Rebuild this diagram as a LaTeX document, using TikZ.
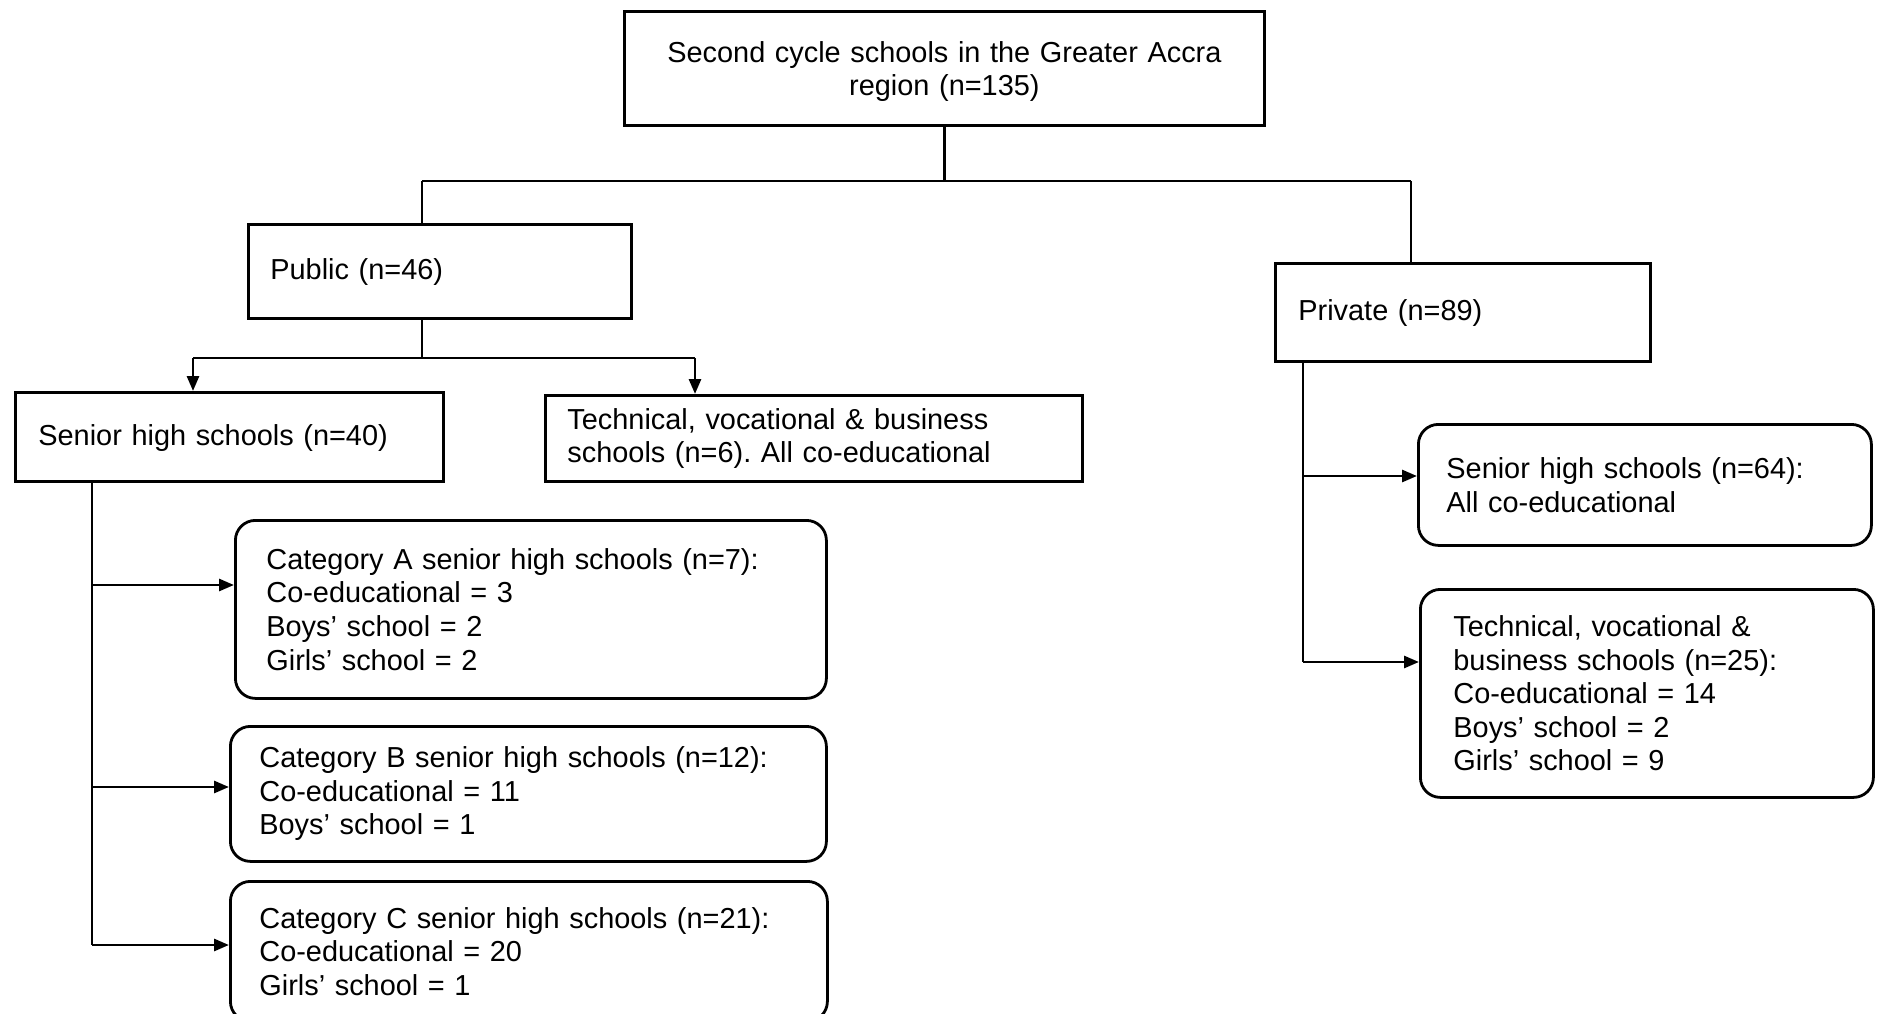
\documentclass[tikz,border=0pt]{standalone}
\usepackage{fontspec}
\setmainfont{Liberation Sans}
\usetikzlibrary{arrows.meta}
\frenchspacing
\begin{document}
\begin{tikzpicture}[x=1pt,y=-1pt,
  every node/.style={font=\fontsize{28.9}{33.6}\selectfont},
  plain/.style={draw,line width=2.8pt,anchor=north west,inner ysep=0pt,align=left},
  roundbox/.style={plain,rounded corners=20pt},
  % width, height, horizontal padding
  sized/.style n args={3}{minimum width=#1pt,minimum height=#2pt,inner xsep=#3pt,text width=#1pt-2*#3pt},
  link/.style={line width=2.8pt},
  arrowlink/.style={link,-{Triangle[length=15pt,width=12pt]}}]
\useasboundingbox (0,0) rectangle (1883,1014);
\node[plain,align=center,sized={640}{114}{30},text height=27pt] (top) at (623,10)
  {Second cycle schools in the Greater Accra\\region (n=135)};
\node[plain,sized={383}{94}{22},text depth=4pt] (pub) at (247,223) {Public (n=46)};
\node[plain,sized={375}{98}{23},text depth=4pt] (priv) at (1274,262) {Private (n=89)};
\node[plain,sized={428}{89}{23},text depth=4pt] (shs) at (14,391) {Senior high schools (n=40)};
\node[plain,sized={537}{86}{22}] (tvp) at (544,394)
  {Technical, vocational \& business\\schools (n=6). All co-educational};
\node[roundbox,sized={591}{178}{31}] (catA) at (234,519)
  {Category A senior high schools (n=7):\\Co-educational = 3\\Boys’ school = 2\\Girls’ school = 2};
\node[roundbox,sized={596}{135}{29}] (catB) at (229,725)
  {Category B senior high schools (n=12):\\Co-educational = 11\\Boys’ school = 1};
\node[roundbox,sized={597}{140}{29}] (catC) at (229,880)
  {Category C senior high schools (n=21):\\Co-educational = 20\\Girls’ school = 1};
\node[roundbox,sized={453}{121}{28}] (pshs) at (1417,423)
  {Senior high schools (n=64):\\All co-educational\\[8pt]};
\node[roundbox,sized={453}{208}{33}] (ptvb) at (1419,588)
  {Technical, vocational \&\\business schools (n=25):\\Co-educational = 14\\Boys’ school = 2\\Girls’ school = 9};
% junction points of the connector bars
\coordinate (bL) at (422,181);
\coordinate (bR) at (1411,181);
\coordinate (pj) at (422,358);
\coordinate (pL) at (193,358);
\coordinate (pR) at (695,358);
\coordinate (sL) at (92,480);
\coordinate (vL) at (1303,360);
% connectors
\draw[link] (top.south) -- (top.south |- bL);
\draw[link] (bL) -- (bR);
\draw[link] (bL) -- (bL |- pub.north);
\draw[link] (bR) -- (bR |- priv.north);
\draw[link] (pub.south -| pj) -- (pj);
\draw[link] (pL) -- (pR);
\draw[arrowlink] (pL) -- (pL |- shs.north);
\draw[arrowlink] (pR) -- (pR |- tvp.north);
\draw[link] (sL) -- (92,945);
\draw[arrowlink] (sL |- 0,585) -- (catA.west |- 0,585);
\draw[arrowlink] (sL |- 0,787) -- (catB.west |- 0,787);
\draw[arrowlink] (sL |- 0,945) -- (catC.west |- 0,945);
\draw[link] (vL) -- (1303,662);
\draw[arrowlink] (vL |- 0,476) -- (pshs.west |- 0,476);
\draw[arrowlink] (vL |- 0,662) -- (ptvb.west |- 0,662);
\end{tikzpicture}
\end{document}
